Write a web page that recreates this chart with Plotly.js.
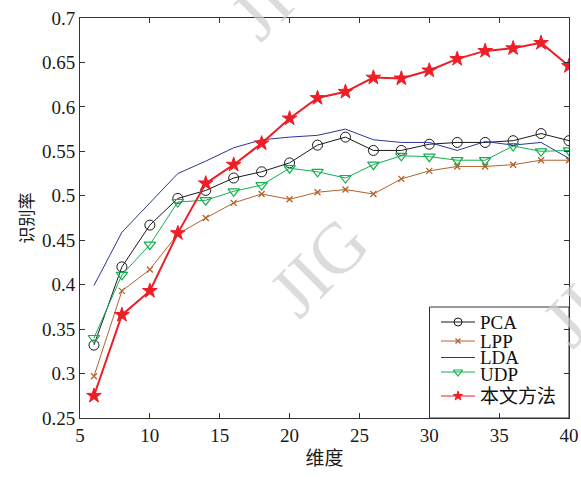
<!DOCTYPE html>
<html>
<head>
<meta charset="utf-8">
<script src="https://cdn.plot.ly/plotly-3.0.1.min.js"></script>
<style>html,body{margin:0;padding:0;background:#fff;}#chart{width:581px;height:477px;}</style>
</head>
<body>
<div id="chart"></div>
<script>
// ---- data ----
const dims = [6, 8, 10, 12, 14, 16, 18, 20, 22, 24, 26, 28, 30, 32, 34, 36, 38, 40];
const pca  = [0.332, 0.420, 0.467, 0.497, 0.506, 0.520, 0.527, 0.537, 0.557, 0.566, 0.551, 0.551, 0.558, 0.560, 0.560, 0.562, 0.570, 0.562];
const lpp  = [0.297, 0.393, 0.417, 0.457, 0.475, 0.492, 0.502, 0.496, 0.504, 0.507, 0.502, 0.519, 0.528, 0.533, 0.533, 0.535, 0.540, 0.540];
const lda  = [0.399, 0.459, 0.492, 0.525, 0.539, 0.554, 0.563, 0.566, 0.568, 0.575, 0.563, 0.560, 0.560, 0.551, 0.561, 0.557, 0.560, 0.542];
const udp  = [0.340, 0.411, 0.445, 0.493, 0.495, 0.505, 0.512, 0.531, 0.527, 0.520, 0.535, 0.545, 0.544, 0.540, 0.540, 0.556, 0.550, 0.551];
const ours = [0.275, 0.366, 0.393, 0.458, 0.514, 0.535, 0.559, 0.587, 0.610, 0.617, 0.633, 0.632, 0.641, 0.654, 0.663, 0.666, 0.672, 0.646];
const seriesNames = ["PCA", "LPP", "LDA", "UDP", "本文方法"];
const xTicks = [5, 10, 15, 20, 25, 30, 35, 40];
const yTicks = [0.25, 0.3, 0.35, 0.4, 0.45, 0.5, 0.55, 0.6, 0.65, 0.7];
const yTickText = ["0.25", "0.3", "0.35", "0.4", "0.45", "0.5", "0.55", "0.6", "0.65", "0.7"];
const xTitle = "维度";
const yTitle = "识别率";
const watermark = "JIG";

// ---- styles ----
const FONT = "'Liberation Serif', 'Noto Sans CJK SC', serif";
const styles = [
  {color: "#1a1a1a", width: 1, symbol: "circle-open", size: 10, lw: 1, legSize: 8},
  {color: "#b3622d", width: 1, symbol: "x-thin", size: 6, lw: 1.3, legSize: 5},
  {color: "#2e3592", width: 1, symbol: null, size: 0, lw: 0, legSize: 0},
  {color: "#12b04e", width: 1, symbol: "triangle-down-open", size: 10, lw: 1.2, legSize: 8},
  {color: "#ee1d26", width: 2, symbol: "star", size: 11, lw: 1, legSize: 7}
];
const values = [pca, lpp, lda, udp, ours];

const traces = values.map((v, i) => {
  const s = styles[i];
  const t = {
    x: dims, y: v, type: "scatter", name: seriesNames[i], showlegend: false,
    mode: s.symbol ? "lines+markers" : "lines",
    line: {color: s.color, width: s.width},
    hoverinfo: "skip"
  };
  if (s.symbol) t.marker = {symbol: s.symbol, size: s.size, color: s.color, line: {color: s.color, width: s.lw}};
  return t;
});

// custom legend (pixel coordinates through a hidden overlay axis)
const legRows = [322, 341, 357.5, 372, 396];
const legTextDy = [0, 0, 0, 2, 0.5];
const legLineX = [441, 475];
const legTextX = 478;
const shapes = [{type: "rect", xref: "x2", yref: "y2", x0: 429.5, x1: 569, y0: 307, y1: 418,
  line: {color: "#333", width: 1}, fillcolor: "#fff", layer: "below"}];
const annotations = [];
legRows.forEach((yy, i) => {
  shapes.push({type: "line", xref: "x2", yref: "y2", x0: legLineX[0], x1: legLineX[1], y0: yy, y1: yy,
    line: {color: styles[i].color, width: 1}, layer: "below"});
  annotations.push({xref: "x2", yref: "y2", x: legTextX, y: yy + legTextDy[i], text: seriesNames[i],
    showarrow: false, xanchor: "left", yanchor: "middle", font: {family: FONT, size: 19, color: "#111"}});
});
styles.forEach((s, i) => {
  if (!s.symbol) return;
  traces.push({x: [(legLineX[0] + legLineX[1]) / 2], y: [legRows[i]], xaxis: "x2", yaxis: "y2",
    type: "scatter", mode: "markers", showlegend: false, hoverinfo: "skip",
    marker: {symbol: s.symbol, size: s.legSize, color: s.color, line: {color: s.color, width: s.lw}}});
});

// watermark
[[0.489, 0.3775], [0.409, 1.07], [1.047, 0.3025]].forEach(p => {
  annotations.push({xref: "paper", yref: "paper", x: p[0], y: p[1], text: watermark, showarrow: false,
    textangle: -45, xanchor: "center", yanchor: "middle",
    font: {family: FONT, size: 72, color: "rgba(205,205,205,0.7)"}});
});

const axisCommon = {
  showline: true, linecolor: "#333", linewidth: 1, mirror: "ticks",
  ticks: "inside", ticklen: 5, tickcolor: "#333", tickwidth: 1,
  showgrid: false, zeroline: false,
  tickfont: {family: FONT, size: 19, color: "#1a1a1a"}
};

const layout = {
  width: 581, height: 477,
  margin: {l: 80, r: 12, t: 18, b: 59},
  paper_bgcolor: "#fff", plot_bgcolor: "#fff",
  showlegend: false,
  xaxis: Object.assign({}, axisCommon, {range: [5, 40], tickvals: xTicks, ticktext: xTicks.map(String),
    title: {text: xTitle, font: {family: FONT, size: 19, color: "#1a1a1a"}, standoff: 6}}),
  yaxis: Object.assign({}, axisCommon, {range: [0.25, 0.7], tickvals: yTicks, ticktext: yTickText,
    title: {text: yTitle, font: {family: FONT, size: 17, color: "#1a1a1a"}, standoff: 4}}),
  xaxis2: {overlaying: "x", range: [80, 569], visible: false, fixedrange: true},
  yaxis2: {overlaying: "y", range: [418, 18], visible: false, fixedrange: true},
  shapes: shapes,
  annotations: annotations
};

Plotly.newPlot("chart", traces, layout, {staticPlot: true, displayModeBar: false});
</script>
</body>
</html>
